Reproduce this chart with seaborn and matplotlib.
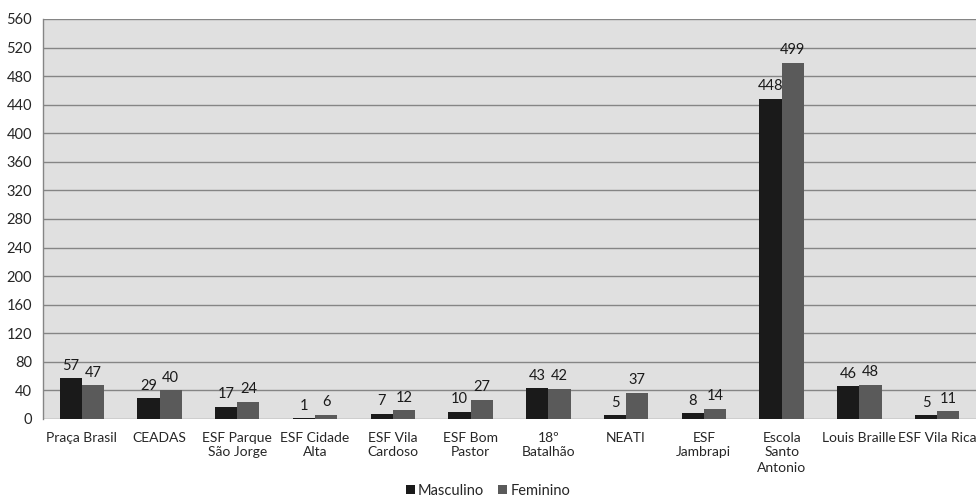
import matplotlib
matplotlib.use("Agg")
import matplotlib.pyplot as plt
import seaborn as sns
import pandas as pd

categorias = ["Praça Brasil", "CEADAS", "ESF Parque\nSão Jorge", "ESF Cidade\nAlta",
              "ESF Vila\nCardoso", "ESF Bom\nPastor", "18º\nBatalhão", "NEATI",
              "ESF\nJambrapi", "Escola\nSanto\nAntonio", "Louis Braille", "ESF Vila Rica"]
masculino = [57, 29, 17, 1, 7, 10, 43, 5, 8, 448, 46, 5]
feminino = [47, 40, 24, 6, 12, 27, 42, 37, 14, 499, 48, 11]
series = ["Masculino", "Feminino"]
cores = ["#1a1a1a", "#5a5a5a"]
yticks = list(range(0, 561, 40))

df = pd.DataFrame({
    "local": categorias * 2,
    "valor": masculino + feminino,
    "sexo": [series[0]] * len(categorias) + [series[1]] * len(categorias),
})

sns.set_style("white")
plt.rcParams["font.family"] = ["Lato", "DejaVu Sans"]

fig = plt.figure(figsize=(9.76, 5.0), dpi=100)
ax = fig.add_axes([0.044, 0.162, 0.956, 0.800])
ax.set_facecolor("#e0e0e0")

sns.barplot(data=df, x="local", y="valor", hue="sexo", hue_order=series,
            palette=cores, width=0.57, gap=0, saturation=1, ax=ax,
            edgecolor="none", legend=True, zorder=3)

for cont in ax.containers:
    ax.bar_label(cont, padding=4, fontsize=10.5, color="#1a1a1a")

ax.set_ylim(0, 560)
ax.set_yticks(yticks)
ax.set_xlim(-0.5, len(categorias) - 0.5)
ax.yaxis.grid(True, color="#858585", linewidth=1.0, zorder=0)
ax.set_axisbelow(True)
for s in ["top", "right", "bottom"]:
    ax.spines[s].set_visible(False)
ax.spines["left"].set_color("#858585")
ax.spines["left"].set_linewidth(1.0)
ax.tick_params(axis="y", length=5, color="#858585", labelsize=10.5, pad=3)
ax.tick_params(axis="x", length=0, labelsize=10, pad=9)
for lbl in ax.get_xticklabels():
    lbl.set_linespacing(1.3)
ax.set_xlabel("")
ax.set_ylabel("")

handles, labels = ax.get_legend_handles_labels()
ax.legend_.remove()
fig.legend(handles, labels, loc="center", bbox_to_anchor=(0.5, 0.018), ncol=2,
           frameon=False, fontsize=10.5, handlelength=0.6, handleheight=0.6,
           handletextpad=0.2, columnspacing=1.0)

fig.savefig("out.png", dpi=100)
